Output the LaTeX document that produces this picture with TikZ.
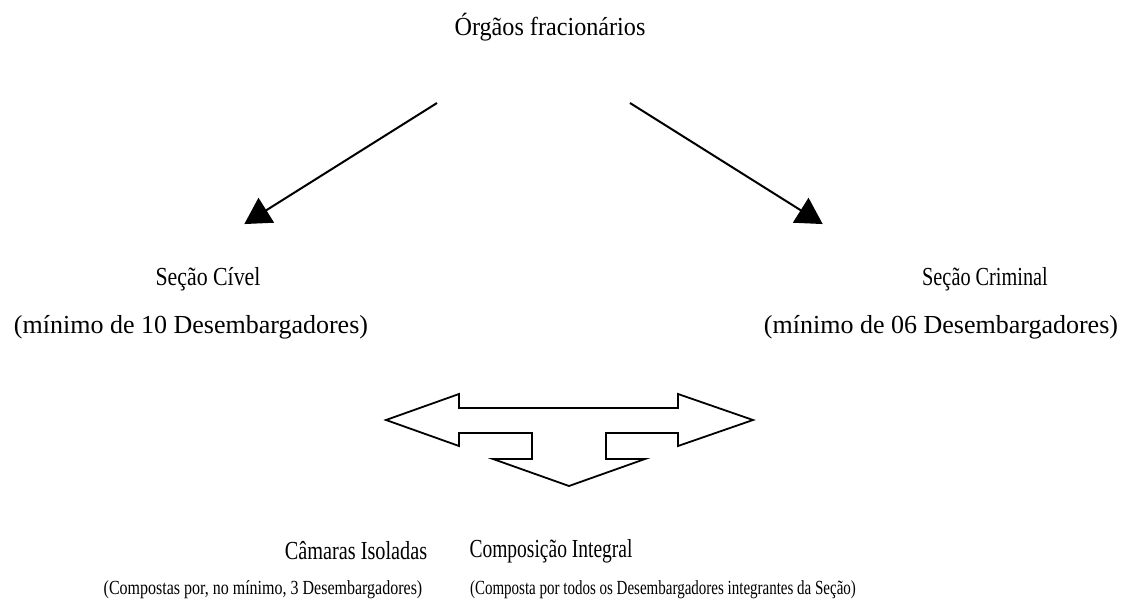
\documentclass[tikz,border=0pt]{standalone}
\usepackage{fontspec}
\setmainfont{Liberation Serif}
\usetikzlibrary{arrows.meta}
\tikzset{
  lbl/.style={inner sep=0pt, anchor=center, font=\fontsize{26}{30}\selectfont},
  sub/.style={inner sep=0pt, anchor=center, font=\fontsize{20}{24}\selectfont},
  conn/.style={line width=2pt, -{Triangle[length=26pt,width=29pt]}, shorten >=-2pt},
  tri/.style={line width=1.8pt, draw=black, fill=white, line join=miter}
}
\begin{document}
\begin{tikzpicture}[x=1pt,y=-1pt]
\useasboundingbox (0,0) rectangle (1132,612);
\node[lbl] (org) at (550,27) {\scalebox{0.93}[1]{Órgãos fracionários}};
\node[lbl] (civ) at (208,279) {\scalebox{0.84}[1]{Seção Cível}};
\node[lbl] (civm) at (191,327) {(mínimo de 10 Desembargadores)};
\node[lbl] (cri) at (985,279) {\scalebox{0.78}[1]{Seção Criminal}};
\node[lbl] (crim) at (941,327) {(mínimo de 06 Desembargadores)};
\node[lbl] (cam) at (356,551) {\scalebox{0.78}[1]{Câmaras Isoladas}};
\node[lbl] (comp) at (551,551) {\scalebox{0.75}[1]{Composição Integral}};
\node[sub] (camd) at (263,590) {\scalebox{0.8}[1]{(Compostas por, no mínimo, 3 Desembargadores)}};
\node[sub] (compd) at (663,590) {\scalebox{0.75}[1]{(Composta por todos os Desembargadores integrantes da Seção)}};
\coordinate (ls) at (437,103);
\coordinate (le) at (246,223);
\coordinate (rs) at (630,103);
\coordinate (re) at (821,223);
\draw[conn] (ls) -- (le);
\draw[conn] (rs) -- (re);
\draw[tri] (386,420) -- (459,394) -- (459,408) -- (678,408) -- (678,394) -- (753,420)
  -- (678,446) -- (678,433) -- (606,433) -- (606,459) -- (645,459) -- (569,486)
  -- (493,459) -- (532,459) -- (532,433) -- (459,433) -- (459,446) -- cycle;
\end{tikzpicture}
\end{document}
